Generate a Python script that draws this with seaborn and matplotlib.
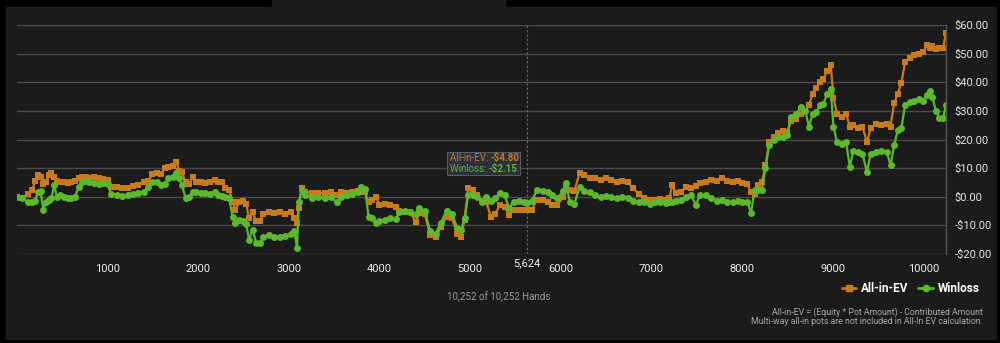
import pandas as pd
import matplotlib.pyplot as plt
import seaborn as sns
from matplotlib.patches import Rectangle
from matplotlib.lines import Line2D

# hand number, all-in EV and win/loss
hands = [0, 60, 120, 170, 200, 230, 260, 290, 320, 350, 380, 410, 440, 480, 520, 560, 600, 640, 680, 720,
         760, 800, 850, 900, 950, 1000, 1040, 1100, 1160, 1220, 1280, 1340, 1400, 1450, 1490, 1540, 1590,
         1630, 1670, 1720, 1760, 1790, 1820, 1860, 1900, 1940, 1980, 2030, 2080, 2130, 2180, 2220, 2260,
         2300, 2340, 2380, 2410, 2450, 2490, 2530, 2560, 2600, 2640, 2680, 2720, 2780, 2840, 2900, 2960,
         3020, 3060, 3090, 3110, 3140, 3180, 3250, 3320, 3400, 3460, 3530, 3580, 3640, 3700, 3760, 3800,
         3840, 3880, 3920, 3960, 4000, 4060, 4120, 4180, 4220, 4280, 4340, 4400, 4440, 4500, 4560, 4620,
         4680, 4740, 4800, 4860, 4900, 4940, 4980, 5030, 5080, 5130, 5180, 5230, 5280, 5330, 5380, 5430,
         5480, 5540, 5600, 5624, 5680, 5740, 5800, 5860, 5900, 5960, 6030, 6060, 6100, 6150, 6210, 6260,
         6320, 6380, 6440, 6500, 6560, 6620, 6680, 6740, 6800, 6860, 6920, 6980, 7040, 7100, 7160, 7200,
         7230, 7270, 7330, 7380, 7440, 7490, 7540, 7600, 7660, 7720, 7780, 7840, 7900, 7960, 8000, 8060,
         8100, 8140, 8180, 8220, 8260, 8300, 8350, 8400, 8450, 8500, 8540, 8600, 8650, 8700, 8740, 8780,
         8820, 8860, 8900, 8940, 8980, 9010, 9050, 9100, 9150, 9190, 9230, 9280, 9330, 9380, 9420, 9480,
         9540, 9600, 9640, 9680, 9720, 9760, 9800, 9850, 9900, 9950, 10000, 10040, 10070, 10100, 10140,
         10180, 10220, 10252]

all_in_ev = [0.0, -0.5, 1.0, 2.5, 5.5, 7.5, 7.0, 4.5, 5.0, 7.5, 8.4, 7.0, 5.5, 5.0, 5.2, 4.8, 5.0, 5.5, 6.5, 7.0,
             6.8, 6.4, 6.8, 6.5, 6.2, 6.0, 3.5, 3.3, 3.0, 3.2, 3.6, 4.2, 5.0, 5.5, 7.8, 8.4, 8.0,
             10.0, 10.5, 10.8, 12.0, 9.0, 8.5, 5.0, 4.5, 6.8, 5.2, 5.0, 4.8, 5.2, 6.0, 5.3, 5.0,
             3.0, 2.5, -2.0, -4.5, -2.0, -1.5, -2.5, -7.5, -5.5, -8.5, -8.5, -6.0, -5.5, -5.8, -5.5, -6.0,
             -5.5, -7.5, -9.0, -3.8, 3.1, 1.8, 1.4, 1.4, 1.2, 1.5, 0.5, 1.5, 1.3, 1.8, 2.0, 1.8,
             1.5, -1.7, -1.0, 0.0, -2.8, -2.5, -3.0, -3.5, -5.0, -5.2, -5.5, -8.7, -5.6, -6.0, -13.5, -14.0,
             -10.5, -7.0, -7.5, -13.0, -13.9, -8.0, 3.0, 2.5, 0.7, -1.5, -2.0, -7.0, -6.0, -2.8, -3.5, -6.3,
             -4.5, -4.8, -4.6, -4.8, -4.5, -1.0, -1.2, -2.0, -2.8, -3.0, 0.0, 3.5, 2.4, 2.0, 8.4, 7.5,
             6.6, 6.5, 6.0, 6.4, 6.0, 5.3, 5.5, 5.0, 3.0, 1.0, -0.5, -1.0, -1.2, -0.8, -1.0, -0.5,
             4.2, 1.4, 1.6, 3.5, 3.2, 3.8, 4.9, 5.0, 6.0, 5.5, 6.5, 5.5, 5.0, 5.5, 4.9, 4.5,
             1.5, 1.0, 4.0, 5.0, 11.0, 19.0, 21.0, 22.4, 23.0, 22.5, 26.3, 27.0, 29.0, 30.0, 32.0, 36.0,
             38.0, 40.0, 41.0, 44.0, 46.0, 34.6, 29.0, 28.0, 29.0, 24.5, 25.0, 24.0, 24.5, 19.0, 24.0, 25.5,
             25.0, 25.5, 24.5, 32.8, 36.0, 39.8, 47.0, 48.5, 49.6, 50.0, 50.5, 53.0, 52.0, 52.5, 51.5,
             52.0, 52.0, 57.3]

winloss = [0.0, -0.5, -1.8, -2.0, -1.5, 1.8, 2.0, -4.5, -2.0, -1.0, -0.5, 4.0, 0.0, 0.5, 0.0, -0.5, -0.3, 0.0, 3.5, 5.0,
           5.5, 5.0, 4.8, 4.5, 4.8, 4.5, 0.8, 0.5, 0.3, 0.5, 0.8, 1.2, 1.8, 3.5, 5.0, 5.2, 4.0,
           4.5, 6.5, 7.0, 8.2, 6.5, 4.0, -0.3, 0.0, 1.5, 1.8, 1.2, 1.4, 1.0, 1.5, 0.5, 0.2,
           0.0, -0.5, -7.0, -9.0, -8.0, -8.5, -9.5, -15.0, -11.5, -16.0, -16.0, -14.0, -13.5, -14.0, -14.2, -13.8,
           -13.0, -12.0, -17.8, -2.0, 2.5, 0.5, -0.3, -0.2, -0.3, 0.0, -2.0, 0.0, 0.5, 0.8, 1.5, 3.5,
           2.8, -7.0, -7.5, -9.0, -8.5, -8.0, -7.5, -7.8, -5.5, -5.0, -5.5, -6.0, -3.9, -5.0, -12.0, -13.0,
           -9.0, -5.0, -6.0, -11.0, -11.5, -7.5, 0.7, 0.5, 0.0, -1.7, 0.0, -1.5, -0.5, 1.4, 0.5, -3.9,
           -1.7, -1.5, -1.8, -2.15, -1.5, 2.4, 2.0, 1.5, 0.7, -0.5, 2.0, 4.9, -2.0, -2.5, 3.5, 2.0,
           1.5, 0.5, 0.0, 0.3, 0.0, -0.5, 0.0, -0.5, -1.5, -2.0, -2.0, -2.5, -2.0, -2.0, -2.2, -1.8,
           -2.0, -1.5, -1.0, 0.0, 0.5, -2.8, 0.7, 0.5, -0.5, -1.5, -1.0, -1.7, -2.0, -1.5, -1.8, -1.7,
           -5.7, 2.5, 2.5, 2.5, 10.0, 18.0, 20.0, 21.0, 21.0, 21.5, 28.0, 29.0, 31.5, 30.0, 24.5, 29.0,
           29.5, 32.0, 32.5, 36.0, 37.5, 24.5, 19.0, 18.5, 19.0, 10.5, 16.0, 15.5, 15.0, 8.7, 15.0, 15.5,
           16.0, 15.5, 11.0, 18.0, 23.4, 24.0, 32.0, 33.0, 33.5, 34.0, 33.5, 35.5, 37.0, 35.0, 30.0,
           27.5, 27.6, 32.0]

x_ticks = [0, 1000, 2000, 3000, 4000, 5000, 6000, 7000, 8000, 9000, 10000]
y_ticks = [-20, -10, 0, 10, 20, 30, 40, 50, 60]
hover_hand = 5624
hover_ev = -4.80
hover_wl = -2.15
total_hands = 10252

df = pd.DataFrame({'hand': hands, 'ev': all_in_ev, 'wl': winloss})

ORANGE = '#c97a1c'
GREEN = '#5cb82c'
PANEL = '#1b1b1b'

sns.set_style('dark')
plt.rcParams['font.family'] = ['Roboto', 'DejaVu Sans']

fig = plt.figure(figsize=(10, 3.43), dpi=100)
fig.patch.set_facecolor('black')

W, H = 1000, 343
def fx(px):
    return px / W
def fy(py):
    return 1 - py / H

# panel background (with the little tab at the top)
fig.patches.append(Rectangle((fx(6), fy(339)), fx(990), (339 - 7) / H,
                             transform=fig.transFigure, color=PANEL, zorder=-2))
fig.patches.append(Rectangle((fx(272), fy(7)), fx(233), 7 / H,
                             transform=fig.transFigure, color=PANEL, zorder=-2))

ax = fig.add_axes([fx(17), fy(254), fx(946 - 17), (254 - 25) / H])
ax.set_facecolor(PANEL)

sns.lineplot(data=df, x='hand', y='ev', ax=ax, color=ORANGE, marker='s', markersize=4.8,
             markeredgewidth=0, linewidth=1.6, estimator=None, sort=False)
sns.lineplot(data=df, x='hand', y='wl', ax=ax, color=GREEN, marker='o', markersize=5,
             markeredgewidth=0, linewidth=1.6, estimator=None, sort=False)

ax.set_xlim(0, total_hands)
ax.set_ylim(-20, 60)
ax.set_xlabel('')
ax.set_ylabel('')

ax.set_yticks(y_ticks)
ax.set_yticklabels([('-$%.2f' % -v) if v < 0 else ('$%.2f' % v) for v in y_ticks])
ax.yaxis.tick_right()
ax.tick_params(axis='y', length=0, pad=6, labelsize=8, labelcolor='#e6e6e6')
ax.set_xticks(x_ticks)
ax.set_xticklabels(['' if t == 0 else str(t) for t in x_ticks])
ax.tick_params(axis='x', length=4, width=0.8, color='#555555', pad=3, labelsize=8, labelcolor='#eeeeee')

ax.grid(False)
for v in y_ticks:
    ax.axhline(v, color='#4a4a4a', linewidth=1, zorder=0.5)
for s in ['top', 'left', 'bottom']:
    ax.spines[s].set_visible(False)
ax.spines['right'].set_color('#555555')
ax.spines['right'].set_linewidth(1)

# hover crosshair and tooltip
ax.axvline(hover_hand, color='#6a6a6a', linestyle=(0, (2, 2)), linewidth=0.8, zorder=0.6)
ax.text(hover_hand, -21.5, '{:,}'.format(hover_hand), ha='center', va='top',
        fontsize=8, color='#eeeeee')

tip = Rectangle((fx(447), fy(175)), fx(73), 23 / H, transform=fig.transFigure,
                facecolor='#2c303a', edgecolor='#555b68', linewidth=0.8, zorder=5, clip_on=False)
ax.add_artist(tip)
lab1 = ax.text(fx(450), fy(158), 'All-in-EV: ', transform=fig.transFigure, color=ORANGE,
               fontsize=7, va='center', zorder=6, clip_on=False)
ax.annotate('-$%.2f' % -hover_ev, xy=(1, 0.5), xycoords=lab1, va='center', ha='left',
            color=ORANGE, fontsize=7, fontweight='bold', zorder=6, annotation_clip=False)
lab2 = ax.text(fx(450), fy(169), 'Winloss: ', transform=fig.transFigure, color=GREEN,
               fontsize=7, va='center', zorder=6, clip_on=False)
ax.annotate('-$%.2f' % -hover_wl, xy=(1, 0.5), xycoords=lab2, va='center', ha='left',
            color=GREEN, fontsize=7, fontweight='bold', zorder=6, annotation_clip=False)

# legend
handles = [Line2D([], [], color=ORANGE, marker='s', markersize=4.5, linewidth=2),
           Line2D([], [], color=GREEN, marker='o', markersize=4.5, linewidth=2)]
leg = fig.legend(handles, ['All-in-EV', 'Winloss'], loc='center right',
                 bbox_to_anchor=(fx(990), fy(289)), ncol=2, frameon=False,
                 handlelength=1.2, handletextpad=0.4, columnspacing=0.9, fontsize=8.5)
for t in leg.get_texts():
    t.set_color('#ffffff')
    t.set_fontweight('bold')

fig.text(fx(499), fy(297), '{:,} of {:,} Hands'.format(total_hands, total_hands),
         ha='center', va='center', fontsize=7, color='#9a9a9a')
fig.text(fx(983), fy(312), 'All-in-EV = (Equity * Pot Amount) - Contributed Amount',
         ha='right', va='center', fontsize=6.3, color='#a8a8a8')
fig.text(fx(983), fy(321), 'Multi-way all-in pots are not included in All-In EV calculation.',
         ha='right', va='center', fontsize=6.3, color='#a8a8a8')

plt.savefig('out.png', dpi=100, facecolor=fig.get_facecolor())
